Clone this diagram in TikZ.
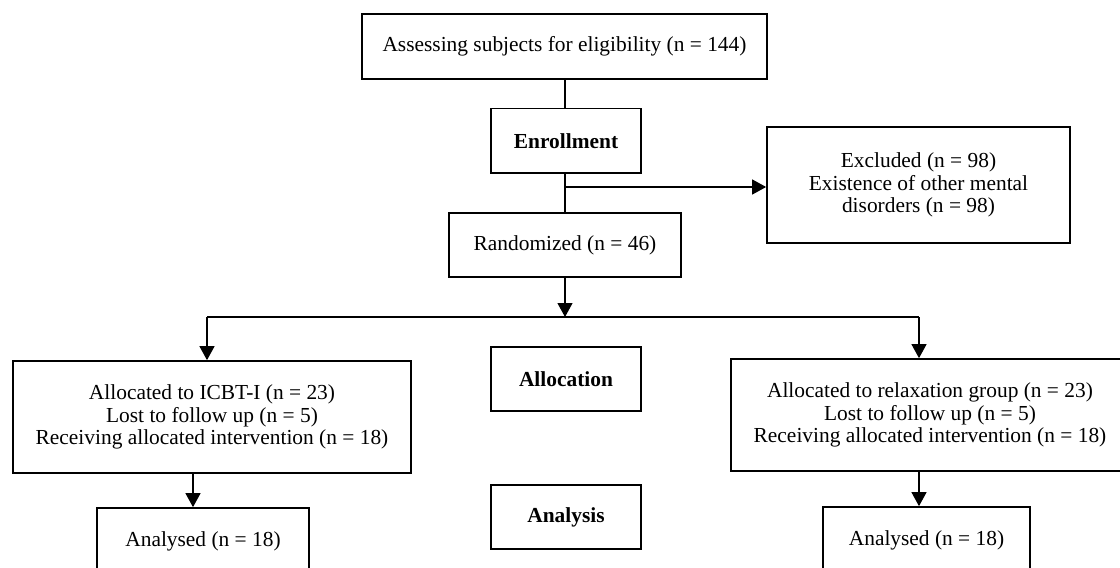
\documentclass[tikz,border=0pt]{standalone}
\usepackage{fontspec}
\setmainfont{Liberation Serif}
\usetikzlibrary{arrows.meta}
\newcommand{\fsz}{\fontsize{21.4}{22.8}\selectfont}
\tikzset{
  box/.style={draw, line width=1.7pt, inner sep=0pt, align=center, font=\fsz},
  ln/.style={line width=1.2pt},
  arr/.style={line width=1.2pt, -{Triangle[width=15pt,length=14pt]}}
}
\begin{document}
\begin{tikzpicture}[x=1pt,y=-1pt]
\useasboundingbox (0,0) rectangle (1120,568);
\clip (0,0) rectangle (1120,568);
\node[box, minimum width=405pt, minimum height=65pt] (top) at (564.5,46.5) {Assessing subjects for eligibility (n = 144)};
\node[box, minimum width=150pt, minimum height=64.5pt, font=\fsz\bfseries] (enroll) at (566,140.75) {Enrollment};
\node[box, minimum width=303pt, minimum height=116pt] (excl) at (918.5,185) {Excluded (n = 98)\\Existence of other mental\\disorders (n = 98)};
\node[box, minimum width=232pt, minimum height=64pt] (random) at (565,245) {Randomized (n = 46)};
\node[box, minimum width=150pt, minimum height=64pt, font=\fsz\bfseries] (alloc) at (566,379) {Allocation};
\node[box, minimum width=150pt, minimum height=64pt, font=\fsz\bfseries] (anal) at (566,517) {Analysis};
\node[box, minimum width=398pt, minimum height=112pt] (left) at (212,417) {Allocated to ICBT-I (n = 23)\\Lost to follow up (n = 5)\\Receiving allocated intervention (n = 18)};
\node[box, minimum width=398pt, minimum height=112pt] (right) at (930,415) {Allocated to relaxation group (n = 23)\\Lost to follow up (n = 5)\\Receiving allocated intervention (n = 18)};
\node[box, minimum width=212pt, minimum height=66pt] (lan) at (203,541) {Analysed (n = 18)};
\node[box, minimum width=207pt, minimum height=66pt] (ran) at (926.5,540) {Analysed (n = 18)};
\coordinate (br) at (565,187);
\coordinate (split) at (565,317);
\coordinate (sl) at (207,317);
\coordinate (sr) at (919,317);
\draw[ln] (top.south -| br) -- (enroll.north -| br);
\draw[ln] (enroll.south -| br) -- (random.north -| br);
\draw[arr] (br) -- (br -| excl.west);
\draw[arr] (random.south -| split) -- (split);
\draw[ln] (sl) -- (sr);
\draw[arr] (sl) -- (sl |- left.north);
\draw[arr] (sr) -- (sr |- right.north);
\draw[arr] ([xshift=-19pt]left.south) -- ([xshift=-19pt]left.south |- lan.north);
\draw[arr] ([xshift=-11pt]right.south) -- ([xshift=-11pt]right.south |- ran.north);
\end{tikzpicture}
\end{document}
